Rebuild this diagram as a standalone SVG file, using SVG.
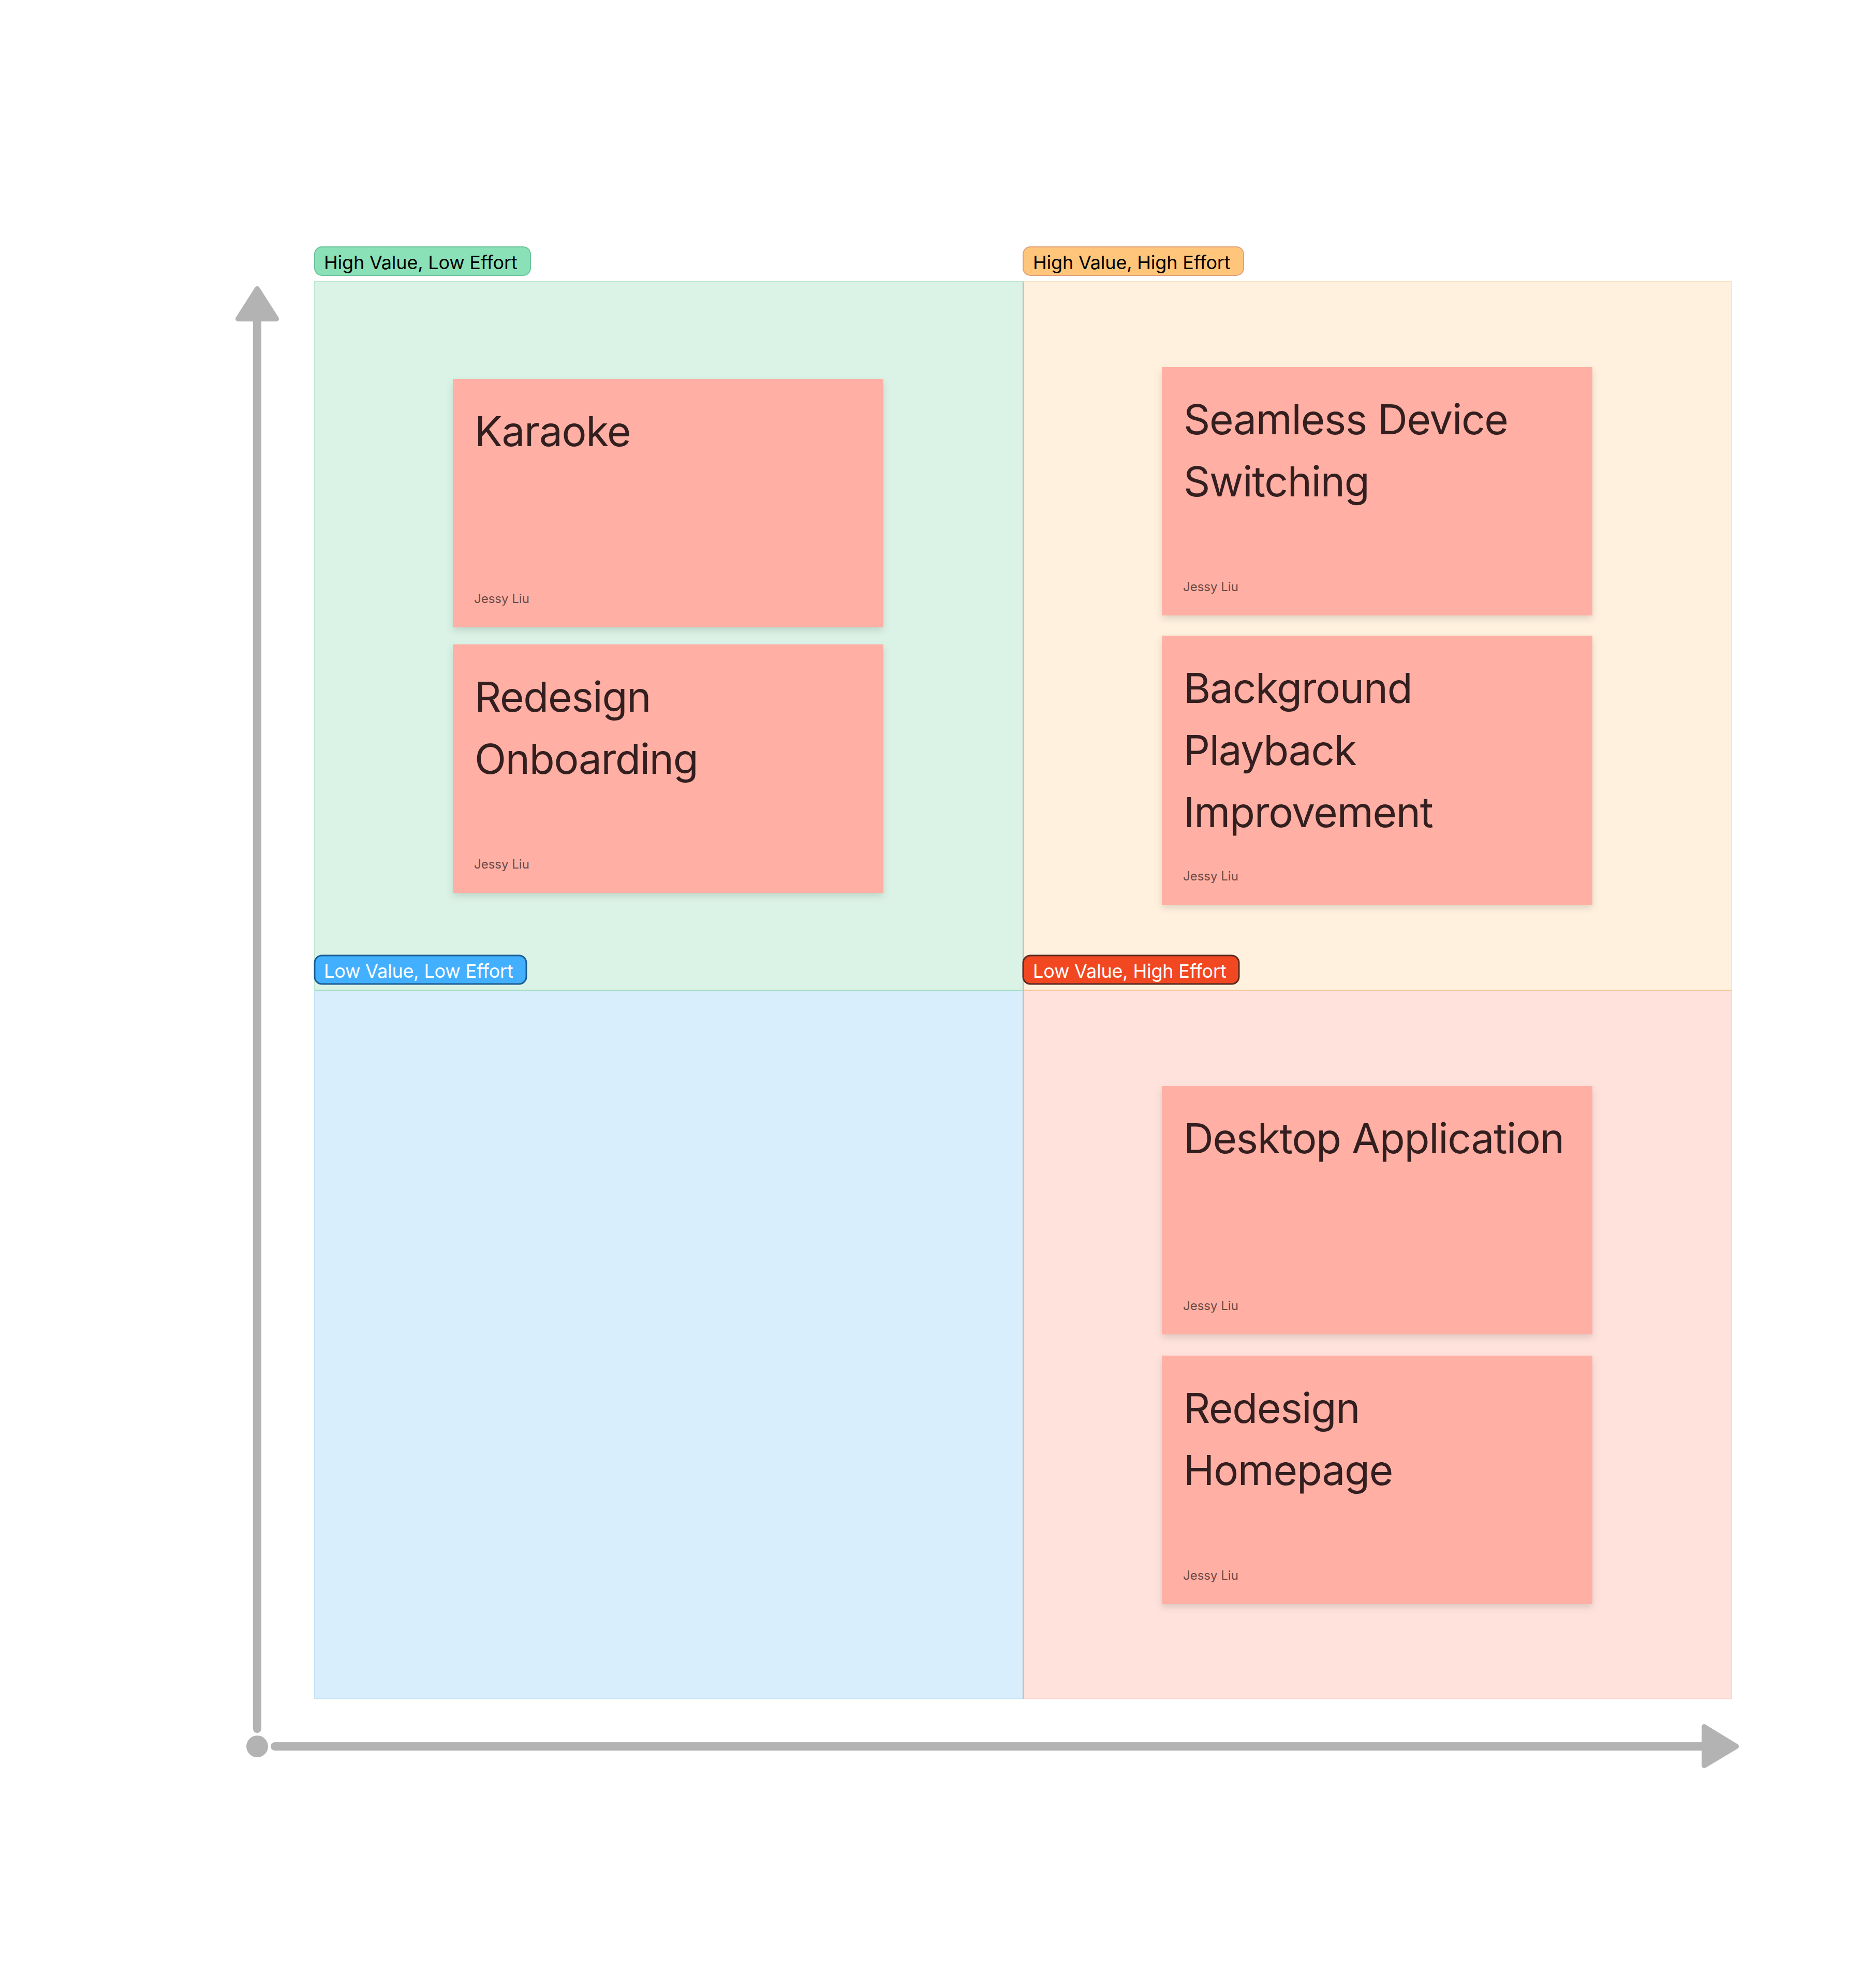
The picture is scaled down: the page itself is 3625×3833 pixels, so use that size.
<svg xmlns="http://www.w3.org/2000/svg" width="3625" height="3833" viewBox="0 0 3625 3833">
<defs>
<style>
.q{stroke-width:2}
.lbl{font-family:Inter,"Liberation Sans",sans-serif;font-size:36px;letter-spacing:-0.2px}
.sticky{fill:#ffafa3}
.st{font-family:Inter,"Liberation Sans",sans-serif;font-size:80px;fill:#331f1f;letter-spacing:-1.3px}
.au{font-family:Inter,"Liberation Sans",sans-serif;font-size:24px;fill:#6b4a47}
.ax{stroke:#b3b3b3;stroke-width:16;stroke-linecap:round;fill:none}
.ah{fill:#b3b3b3;stroke:#b3b3b3;stroke-width:10;stroke-linejoin:round}
.big{font-family:Inter,"Liberation Sans",sans-serif;font-size:128px;fill:#ffffff}
</style>
<filter id="sh" x="-10%" y="-10%" width="120%" height="125%">
<feDropShadow dx="0" dy="6" stdDeviation="7" flood-color="#000000" flood-opacity="0.13"/>
</filter>
</defs>
<rect width="3625" height="3833" fill="#ffffff"/>

<g id="title"><text class="big" x="2071" y="354" text-anchor="middle" font-weight="600">Value vs. Effort Matrix</text></g>
<g id="axis-label-value"><text class="big" x="349" y="1866" text-anchor="middle" transform="rotate(-90 349 1866)">Value</text></g>
<g id="axis-label-effort"><text class="big" x="2022" y="3575" text-anchor="middle">Effort</text></g>

<g id="quadrant-hvle">
<rect class="q" x="608" y="544" width="1369" height="1369" fill="#dbf3e6" stroke="#bfe8d2"/>
</g>
<g id="quadrant-hvhe">
<rect class="q" x="1977" y="544" width="1369" height="1369" fill="#fff1de" stroke="#fbe2c8"/>
</g>
<g id="quadrant-lvle">
<rect class="q" x="608" y="1913" width="1369" height="1369" fill="#d8eefd" stroke="#c7e3f7"/>
</g>
<g id="quadrant-lvhe">
<rect class="q" x="1977" y="1913" width="1369" height="1369" fill="#ffe2dc" stroke="#fbd6ce"/>
</g>
<line x1="608" y1="1913" x2="1977" y2="1913" stroke="#9fdcbf" stroke-width="2"/>
<line x1="1977" y1="1913" x2="3346" y2="1913" stroke="#f5c89a" stroke-width="2"/>
<line x1="1977" y1="544" x2="1977" y2="3282" stroke="#b9b9b9" stroke-width="2"/>

<g id="label-hvle">
<rect x="608" y="477" width="417" height="55" rx="14" fill="#8ae1b7" stroke="#6cc49b" stroke-width="2"/>
<text class="lbl" x="626" y="520" fill="#000000">High Value, Low Effort</text>
</g>
<g id="label-hvhe">
<rect x="1977" y="477" width="426" height="55" rx="14" fill="#ffc67b" stroke="#e0a07a" stroke-width="2"/>
<text class="lbl" x="1996" y="520" fill="#000000">High Value, High Effort</text>
</g>
<g id="label-lvle">
<rect x="608" y="1846" width="409" height="55" rx="14" fill="#43b0ff" stroke="#1d5e94" stroke-width="3"/>
<text class="lbl" x="626" y="1889" fill="#ffffff">Low Value, Low Effort</text>
</g>
<g id="label-lvhe">
<rect x="1977" y="1846" width="417" height="55" rx="14" fill="#f24822" stroke="#5a2a22" stroke-width="3"/>
<text class="lbl" x="1996" y="1889" fill="#ffffff">Low Value, High Effort</text>
</g>

<g id="note-karaoke">
<rect class="sticky" x="875" y="732" width="832" height="480" filter="url(#sh)"/>
<text class="st" x="917" y="862">Karaoke</text>
<text class="au" x="916" y="1165">Jessy Liu</text>
</g>
<g id="note-redesign-onboarding">
<rect class="sticky" x="875" y="1245" width="832" height="480" filter="url(#sh)"/>
<text class="st" x="917" y="1375">Redesign</text>
<text class="st" x="917" y="1495">Onboarding</text>
<text class="au" x="916" y="1678">Jessy Liu</text>
</g>
<g id="note-seamless-device-switching">
<rect class="sticky" x="2245" y="709" width="832" height="480" filter="url(#sh)"/>
<text class="st" x="2287" y="839">Seamless Device</text>
<text class="st" x="2287" y="959">Switching</text>
<text class="au" x="2286" y="1142">Jessy Liu</text>
</g>
<g id="note-background-playback">
<rect class="sticky" x="2245" y="1228" width="832" height="520" filter="url(#sh)"/>
<text class="st" x="2287" y="1358">Background</text>
<text class="st" x="2287" y="1478">Playback</text>
<text class="st" x="2287" y="1598">Improvement</text>
<text class="au" x="2286" y="1701">Jessy Liu</text>
</g>
<g id="note-desktop-application">
<rect class="sticky" x="2245" y="2098" width="832" height="480" filter="url(#sh)"/>
<text class="st" x="2287" y="2228">Desktop Application</text>
<text class="au" x="2286" y="2531">Jessy Liu</text>
</g>
<g id="note-redesign-homepage">
<rect class="sticky" x="2245" y="2619" width="832" height="480" filter="url(#sh)"/>
<text class="st" x="2287" y="2749">Redesign</text>
<text class="st" x="2287" y="2869">Homepage</text>
<text class="au" x="2286" y="3052">Jessy Liu</text>
</g>

<g id="connectors">
<line class="ax" x1="497" y1="612" x2="497" y2="3340"/>
<polygon class="ah" points="497,558 460,616 534,616"/>
<line class="ax" x1="531" y1="3374" x2="3295" y2="3374"/>
<polygon class="ah" points="3293,3336 3355,3374 3293,3411"/>
<circle cx="497" cy="3374" r="21" fill="#b3b3b3"/>
</g>
</svg>
